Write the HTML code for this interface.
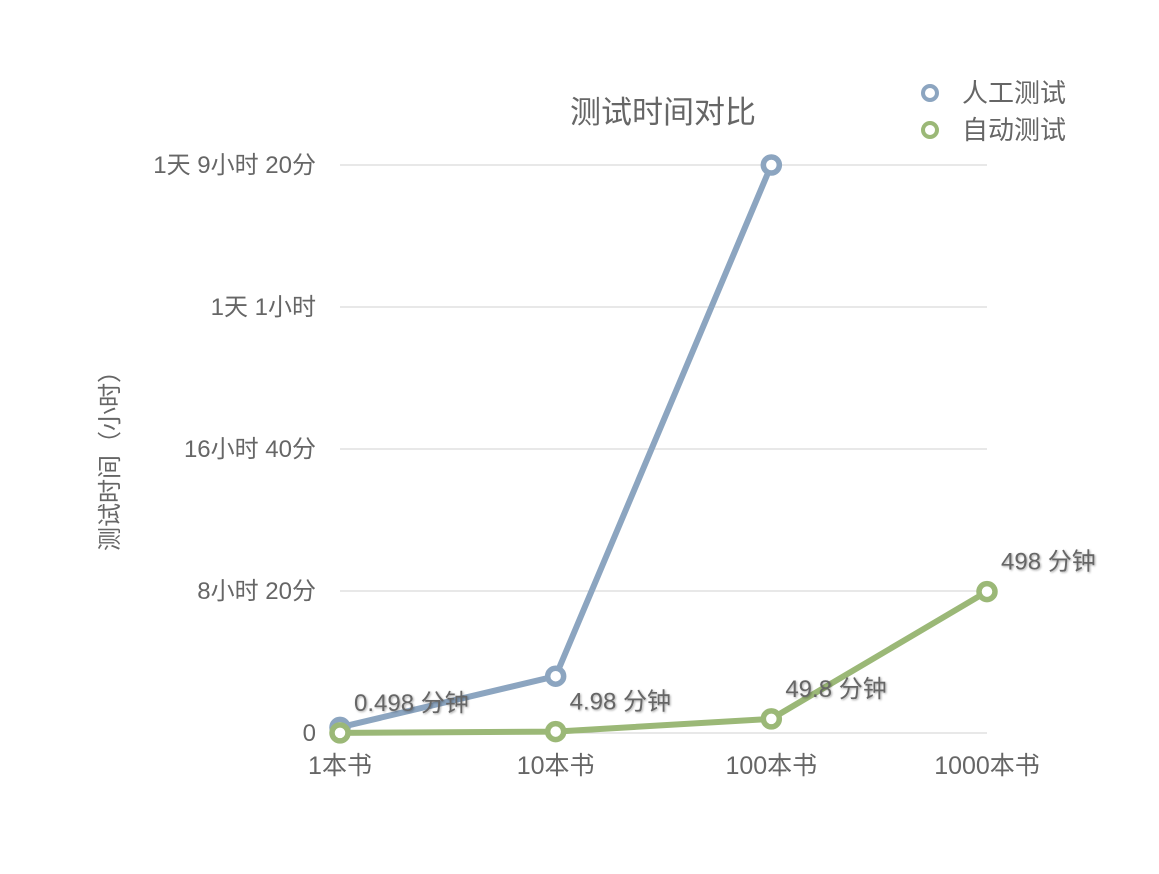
<!DOCTYPE html>
<html><head><meta charset="utf-8"><style>
body{margin:0;background:#fff}
svg text{font-family:"Liberation Sans","Noto Sans CJK SC",sans-serif;fill:#666}
</style></head><body>
<svg width="1159" height="869">
<text x="663" y="123" font-size="31" text-anchor="middle">测试时间对比</text>
<text transform="translate(118,455) rotate(-90)" font-size="24" text-anchor="middle">测试时间（小时）</text>
<g>
<g><circle cx="930" cy="93" r="7" fill="#fff" stroke="#8ca5c0" stroke-width="4"/><text x="962" y="102" font-size="26">人工测试</text></g>
<g><circle cx="930" cy="130" r="7" fill="#fff" stroke="#9bb877" stroke-width="4"/><text x="962" y="139" font-size="26">自动测试</text></g>
</g>
<g id="grid"></g><g id="xt"></g><g id="series"></g>
</svg>
<script>
const categories=["1本书","10本书","100本书","1000本书"];
const manualValues=[20,200,2000,null];
const autoValues=[0.498,4.98,49.8,498];
const autoLabels=["0.498 分钟","4.98 分钟","49.8 分钟","498 分钟"];
const yTicks=[0,500,1000,1500,2000];
const yTickLabels=["0","8小时 20分","16小时 40分","1天 1小时","1天 9小时 20分"];
const NS="http://www.w3.org/2000/svg";
const x0=340,x1=987,yb=733,yt=165,ymax=2000;
const X=i=>x0+i*(x1-x0)/(categories.length-1);
const Y=v=>yb-v/ymax*(yb-yt);
function mk(t,a,p){const e=document.createElementNS(NS,t);for(const k in a)e.setAttribute(k,a[k]);p.appendChild(e);return e;}
const g=document.getElementById('grid'),xt=document.getElementById('xt'),s=document.getElementById('series');
yTicks.forEach((v,i)=>{
 const l=mk('line',{x1:x0,x2:x1,y1:Y(v),y2:Y(v),stroke:'#d0d0d0','stroke-width':1},g);
 
 
 const t=mk('text',{x:316,y:Y(v)+8,'font-size':24,'text-anchor':'end'},g);t.textContent=yTickLabels[i];
 
 
});
categories.forEach((c,i)=>{
 const t=mk('text',{x:X(i),y:774,'font-size':25,'text-anchor':'middle'},xt);t.textContent=c;
 
 
});
function series(vals,color,name){
 const pts=vals.map((v,i)=>v==null?null:[X(i),Y(v)]).filter(p=>p);
 const pl=mk('polyline',{points:pts.map(p=>p.join(',')).join(' '),fill:'none',stroke:color,'stroke-width':6,'stroke-linejoin':'round'},s);
 
 
 pts.forEach(p=>{const c=mk('circle',{cx:p[0],cy:p[1],r:8,fill:'#fff',stroke:color,'stroke-width':5.5},s);
  
  });
}
series(manualValues,'#8ca5c0','manual');
series(autoValues,'#9bb877','auto');
autoValues.forEach((v,i)=>{
 const t=mk('text',{x:X(i)+14,y:Y(v)-22,'font-size':24,style:'text-shadow:1px 1px 2px rgba(0,0,0,0.35)'},s);t.textContent=autoLabels[i];
 
 
});
</script>
</body></html>
